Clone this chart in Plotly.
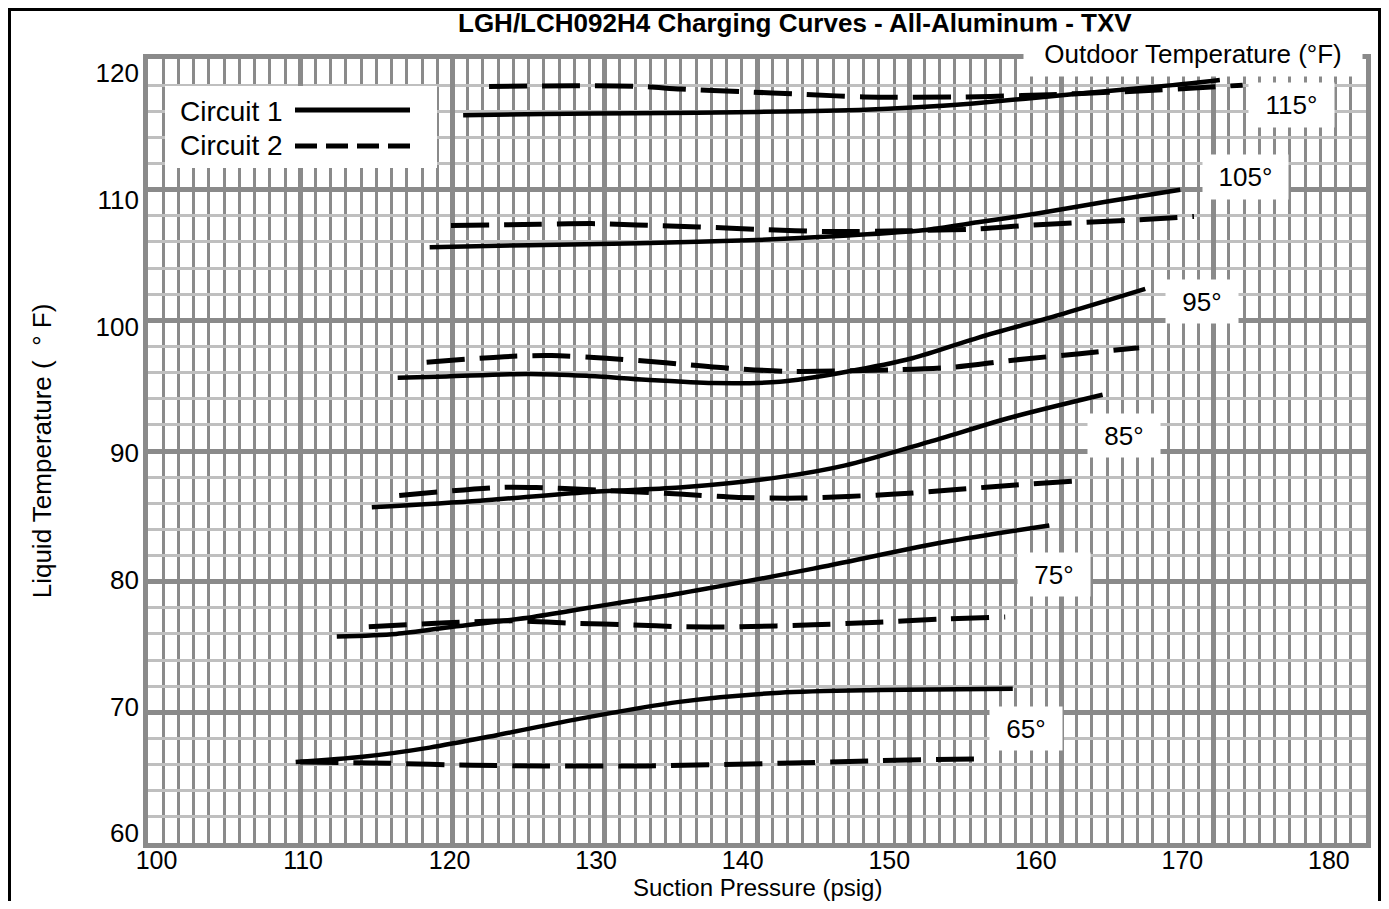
import plotly.graph_objects as go

# ---------------- data ----------------
outdoor_temps = ["65°", "75°", "85°", "95°", "105°", "115°"]

# Circuit 1 (solid)
c1_65_x = [109.7, 114.1, 118.5, 122.9, 128.3, 134.9, 141.5, 148.0, 156.8]
c1_65_y = [66.2, 66.6, 67.3, 68.25, 69.5, 70.8, 71.5, 71.7, 71.8]
c1_75_x = [112.4, 116.3, 120.0, 125.3, 130.5, 134.9, 143.7, 152.4, 159.2]
c1_75_y = [75.8, 76.0, 76.55, 77.3, 78.3, 79.1, 81.0, 83.05, 84.3]
c1_85_x = [114.7, 121.8, 128.8, 134.9, 141.5, 145.8, 151.3, 156.8, 162.7]
c1_85_y = [85.7, 86.2, 86.85, 87.2, 88.0, 88.9, 90.7, 92.6, 94.3]
c1_95_x = [116.4, 119.6, 125.0, 128.8, 132.7, 137.1, 141.5, 145.8, 150.2, 154.6, 160.1, 165.5]
c1_95_y = [95.6, 95.7, 95.9, 95.75, 95.45, 95.2, 95.3, 96.05, 97.1, 98.7, 100.5, 102.4]
c1_105_x = [118.5, 125.0, 132.3, 140.0, 146.0, 150.9, 154.5, 158.5, 163.0, 167.8]
c1_105_y = [105.6, 105.75, 105.9, 106.15, 106.5, 106.9, 107.5, 108.2, 109.1, 110.0]
c1_115_x = [120.7, 126.0, 132.0, 140.0, 146.7, 150.5, 154.2, 160.7, 167.3, 170.4]
c1_115_y = [115.7, 115.8, 115.85, 115.95, 116.1, 116.3, 116.6, 117.3, 118.0, 118.4]

# Circuit 2 (dashed)
c2_65_x = [110.0, 115.9, 121.3, 126.1, 132.7, 141.5, 148.0, 155.0]
c2_65_y = [66.2, 66.1, 65.95, 65.9, 65.9, 66.1, 66.3, 66.45]
c2_75_x = [114.5, 119.6, 124.0, 128.3, 131.6, 135.1, 138.8, 143.7, 148.0, 152.4, 156.3]
c2_75_y = [76.55, 76.85, 77.0, 76.8, 76.7, 76.55, 76.55, 76.7, 76.9, 77.15, 77.3]
c2_85_x = [116.5, 122.9, 125.5, 128.8, 134.9, 138.8, 142.8, 149.1, 153.1, 157.0, 160.9]
c2_85_y = [86.6, 87.2, 87.2, 87.05, 86.7, 86.45, 86.4, 86.7, 87.05, 87.4, 87.7]
c2_95_x = [118.3, 124.0, 126.5, 130.1, 134.0, 138.0, 142.0, 148.7, 152.8, 156.8, 161.2, 165.1]
c2_95_y = [96.8, 97.25, 97.3, 97.1, 96.75, 96.35, 96.1, 96.2, 96.4, 96.95, 97.45, 97.9]
c2_105_x = [119.9, 125.7, 129.4, 132.1, 136.2, 140.4, 144.5, 149.5, 154.6, 158.1, 165.1, 168.7]
c2_105_y = [107.25, 107.35, 107.4, 107.3, 107.15, 106.95, 106.8, 106.85, 107.0, 107.3, 107.7, 107.95]
c2_115_x = [122.4, 128.0, 132.3, 135.0, 139.0, 143.0, 147.0, 153.7, 157.4, 161.0, 165.1, 169.0, 171.9]
c2_115_y = [117.9, 117.95, 117.9, 117.7, 117.5, 117.3, 117.1, 117.1, 117.2, 117.35, 117.55, 117.8, 118.0]

x_tick_labels = [100, 110, 120, 130, 140, 150, 160, 170, 180]
y_tick_labels = [60, 70, 80, 90, 100, 110, 120]

circuit_names = ["Circuit 1", "Circuit 2"]
title_text = "LGH/LCH092H4 Charging Curves - All-Aluminum - TXV"
x_title = "Suction Pressure (psig)"
y_title = "Liquid Temperature (  ° F)"

# ---------------- layout constants ----------------
OFF = 8                      # page body margin in the browser
W, H = 1389 - 2 * OFF, 909 - 2 * OFF
ML, MR, MT, MB = 140, 15, 51, 58
PW, PH = W - ML - MR, H - MT - MB
FONT = "Liberation Sans, Arial, Helvetica, sans-serif"


def px_x(px):
    """screen pixel (reference image) -> paper x"""
    return (px - OFF - ML) / PW


def px_y(py):
    """screen pixel (reference image) -> paper y"""
    return (H - MB - (py - OFF)) / PH


circuit1 = [(c1_65_x, c1_65_y), (c1_75_x, c1_75_y), (c1_85_x, c1_85_y),
            (c1_95_x, c1_95_y), (c1_105_x, c1_105_y), (c1_115_x, c1_115_y)]
circuit2 = [(c2_65_x, c2_65_y), (c2_75_x, c2_75_y), (c2_85_x, c2_85_y),
            (c2_95_x, c2_95_y), (c2_105_x, c2_105_y), (c2_115_x, c2_115_y)]

fig = go.Figure()
for t, (xs, ys) in zip(outdoor_temps, circuit2):
    fig.add_trace(go.Scatter(x=xs, y=ys, mode="lines", name=f"{circuit_names[1]} {t}",
                             line=dict(color="black", width=5, dash="38px,15px", shape="spline", smoothing=0.8),
                             showlegend=False, hoverinfo="skip"))
for t, (xs, ys) in zip(outdoor_temps, circuit1):
    fig.add_trace(go.Scatter(x=xs, y=ys, mode="lines", name=f"{circuit_names[0]} {t}",
                             line=dict(color="black", width=4.5, shape="spline", smoothing=0.8),
                             showlegend=False, hoverinfo="skip"))

# empty trace on the label axes so they render
fig.add_trace(go.Scatter(x=[], y=[], xaxis="x2", yaxis="y2", showlegend=False, hoverinfo="skip"))

GRID_DARK = "#8a8a8a"
GRID_LIGHT = "#bfbfbf"

fig.update_layout(
    width=W, height=H, autosize=False,
    margin=dict(l=ML, r=MR, t=MT, b=MB, pad=0),
    paper_bgcolor="white", plot_bgcolor="white",
    showlegend=False,
    font=dict(family=FONT, color="black", size=26),
    xaxis=dict(range=[100, 180], tickmode="linear", tick0=100, dtick=10,
               showticklabels=False, ticks="", showgrid=True, gridcolor=GRID_DARK, gridwidth=4.5,
               zeroline=False, showline=True, linecolor=GRID_DARK, linewidth=4.5, mirror=True,
               minor=dict(tick0=100, dtick=1, showgrid=True, gridcolor=GRID_DARK, gridwidth=3, ticks=""),
               automargin=False, layer="below traces"),
    yaxis=dict(range=[60, 120], tickmode="linear", tick0=60, dtick=10,
               showticklabels=False, ticks="", showgrid=True, gridcolor=GRID_DARK, gridwidth=4.5,
               zeroline=False, showline=True, linecolor=GRID_DARK, linewidth=4.5, mirror=True,
               minor=dict(tick0=60, dtick=2, showgrid=True, gridcolor=GRID_LIGHT, gridwidth=2.5, ticks=""),
               automargin=False, layer="below traces"),
    # label axes (tick labels in the reference sit on a slightly different scale than the grid)
    xaxis2=dict(overlaying="x", anchor="y", side="bottom", range=[99.42, 182.53],
                tickmode="array", tickvals=x_tick_labels, ticktext=[str(v) for v in x_tick_labels],
                ticks="", showgrid=False, zeroline=False, showline=False,
                tickfont=dict(size=25, color="black", family=FONT), ticklabelstandoff=0,
                automargin=False),
    yaxis2=dict(overlaying="y", anchor="x", side="left", range=[59.23, 121.13],
                tickmode="array", tickvals=y_tick_labels, ticktext=[str(v) for v in y_tick_labels],
                ticks="", showgrid=False, zeroline=False, showline=False,
                tickfont=dict(size=26, color="black", family=FONT), ticklabelstandoff=8,
                title=dict(text=y_title, font=dict(size=26, family=FONT), standoff=36),
                automargin=False),
)

# ---------------- annotations ----------------
ann = []
ann.append(dict(text=f"<b>{title_text}</b>", xref="paper", yref="paper", x=px_x(795), y=px_y(23),
                xanchor="center", yanchor="middle", showarrow=False, font=dict(size=26, family=FONT)))
ann.append(dict(text=x_title, xref="paper", yref="paper", x=px_x(757), y=px_y(887.5),
                xanchor="center", yanchor="middle", showarrow=False, borderpad=0,
                font=dict(size=24, family=FONT)))
ann.append(dict(text="Outdoor Temperature (°F)", xref="paper", yref="paper", x=px_x(1363), y=px_y(77),
                xanchor="right", yanchor="bottom", showarrow=False, bgcolor="white",
                width=322, height=28, borderpad=8, align="center", valign="middle",
                font=dict(size=26, family=FONT)))

temp_label_x = [157.7, 159.5, 164.1, 169.2, 172.06, 175.08]
temp_label_y = [68.79, 80.57, 91.2, 101.46, 110.95, 116.46]
for t, lx, ly in zip(outdoor_temps, temp_label_x, temp_label_y):
    wide = len(t) > 3
    ann.append(dict(text=t, xref="x", yref="y", x=lx, y=ly, xanchor="center", yanchor="middle",
                    showarrow=False, bgcolor="white", borderpad=4,
                    width=77 if wide else 64, height=36 if wide else 35, align="center",
                    font=dict(size=26, family=FONT)))

# custom legend text (swatches follow the text, as in the reference)
ann.append(dict(text=circuit_names[0], xref="paper", yref="paper", x=px_x(178), y=px_y(112),
                xanchor="left", yanchor="middle", showarrow=False, font=dict(size=28, family=FONT)))
ann.append(dict(text=circuit_names[1], xref="paper", yref="paper", x=px_x(178), y=px_y(145),
                xanchor="left", yanchor="middle", showarrow=False, font=dict(size=28, family=FONT)))
fig.update_layout(annotations=ann)

shapes = []
shapes.append(dict(type="rect", xref="paper", yref="paper", x0=px_x(165), x1=px_x(437),
                   y0=px_y(168), y1=px_y(86), fillcolor="white", line=dict(width=0), layer="above"))
shapes.append(dict(type="line", xref="paper", yref="paper", x0=px_x(295), x1=px_x(410),
                   y0=px_y(110), y1=px_y(110), line=dict(color="black", width=5), layer="above"))
shapes.append(dict(type="line", xref="paper", yref="paper", x0=px_x(295), x1=px_x(410),
                   y0=px_y(146), y1=px_y(146), line=dict(color="black", width=5, dash="22px,9px"),
                   layer="above"))
# outer frame of the figure (bottom edge lies below the visible area)
shapes.append(dict(type="rect", xref="paper", yref="paper", x0=px_x(9.5), x1=px_x(1379.5),
                   y0=px_y(940), y1=px_y(9.5), line=dict(color="black", width=3),
                   fillcolor="rgba(0,0,0,0)", layer="above"))
fig.update_layout(shapes=shapes)

fig.write_html("out.html")
